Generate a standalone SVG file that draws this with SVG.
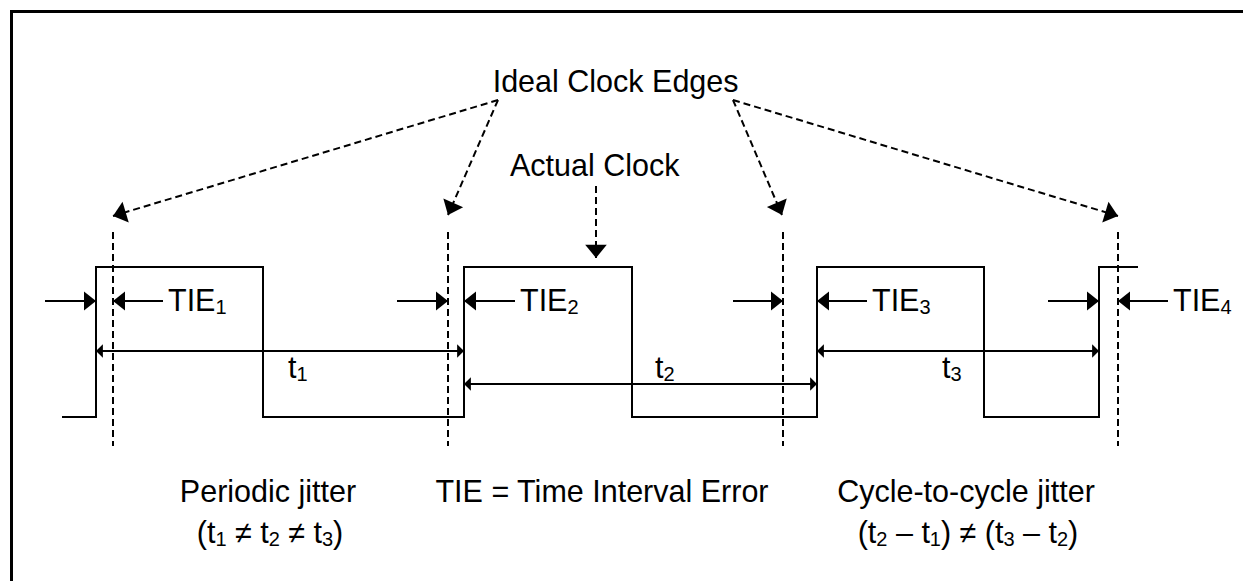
<svg xmlns="http://www.w3.org/2000/svg" width="1243" height="581" viewBox="0 0 1243 581">
  <style>
    text { font-family: "Liberation Sans", Arial, sans-serif; font-size: 30.5px; fill: #000; }
    .sub { font-size: 20px; }
    .wave { fill: none; stroke: #000; stroke-width: 2; }
    .dash { fill: none; stroke: #000; stroke-width: 2; stroke-dasharray: 7 4; }
    .solid { fill: none; stroke: #000; stroke-width: 2; }
  </style>
  <defs>
    <marker id="bigHead" markerUnits="userSpaceOnUse" markerWidth="24" markerHeight="24" viewBox="-12 -10 14 20" refX="0" refY="0" orient="auto">
      <path d="M0,0 L-11,-9 L-11,9 Z" fill="#000"/>
    </marker>
    <marker id="tieHead" markerUnits="userSpaceOnUse" markerWidth="24" markerHeight="24" viewBox="-12 -10 14 20" refX="0" refY="0" orient="auto">
      <path d="M0,0 L-10,-8 L-10,8 Z" fill="#000"/>
    </marker>
    <marker id="tHeadEnd" markerUnits="userSpaceOnUse" markerWidth="16" markerHeight="16" viewBox="-8 -7 10 14" refX="0" refY="0" orient="auto">
      <path d="M0,0 L-6,-6 L-6,6 Z" fill="#000"/>
    </marker>
    <marker id="tHeadStart" markerUnits="userSpaceOnUse" markerWidth="16" markerHeight="16" viewBox="-8 -7 10 14" refX="0" refY="0" orient="auto-start-reverse">
      <path d="M0,0 L-6,-6 L-6,6 Z" fill="#000"/>
    </marker>
  </defs>

  <rect id="frame" x="11.5" y="11.5" width="1300" height="700" fill="none" stroke="#000" stroke-width="3"/>

  <g id="actual-clock-waveform">
    <path class="wave" d="M62,417 H96 V267 H263 V417 H464 V267 H632 V417 H817 V267 H984 V417 H1099 V267 H1138"/>
  </g>

  <g id="ideal-edges">
    <line class="dash" x1="113" y1="232" x2="113" y2="446"/>
    <line class="dash" x1="448" y1="232" x2="448" y2="446"/>
    <line class="dash" x1="783" y1="232" x2="783" y2="446"/>
    <line class="dash" x1="1118" y1="232" x2="1118" y2="446"/>
  </g>

  <g id="label-ideal">
    <text x="492.7" y="92">Ideal Clock Edges</text>
  </g>
  <g id="label-actual">
    <text x="510" y="176">Actual Clock</text>
  </g>

  <g id="connectors">
    <line class="dash" x1="498" y1="100" x2="113" y2="216" marker-end="url(#bigHead)"/>
    <line class="dash" x1="498" y1="100" x2="448" y2="215" marker-end="url(#bigHead)"/>
    <line class="dash" x1="733" y1="100" x2="782" y2="215" marker-end="url(#bigHead)"/>
    <line class="dash" x1="733" y1="100" x2="1118" y2="216" marker-end="url(#bigHead)"/>
    <line class="dash" x1="596" y1="186" x2="596" y2="258" marker-end="url(#bigHead)"/>

    <line class="solid" x1="45" y1="301" x2="96" y2="301" marker-end="url(#tieHead)"/>
    <line class="solid" x1="163" y1="301" x2="113" y2="301" marker-end="url(#tieHead)"/>
    <line class="solid" x1="397" y1="301" x2="448" y2="301" marker-end="url(#tieHead)"/>
    <line class="solid" x1="515" y1="301" x2="464" y2="301" marker-end="url(#tieHead)"/>
    <line class="solid" x1="733" y1="301" x2="783" y2="301" marker-end="url(#tieHead)"/>
    <line class="solid" x1="867" y1="301" x2="817" y2="301" marker-end="url(#tieHead)"/>
    <line class="solid" x1="1048" y1="301" x2="1099" y2="301" marker-end="url(#tieHead)"/>
    <line class="solid" x1="1168" y1="301" x2="1118" y2="301" marker-end="url(#tieHead)"/>

    <line class="solid" x1="96" y1="351" x2="464" y2="351" marker-start="url(#tHeadStart)" marker-end="url(#tHeadEnd)"/>
    <line class="solid" x1="464" y1="384" x2="817" y2="384" marker-start="url(#tHeadStart)" marker-end="url(#tHeadEnd)"/>
    <line class="solid" x1="817" y1="351" x2="1099" y2="351" marker-start="url(#tHeadStart)" marker-end="url(#tHeadEnd)"/>
  </g>

  <g id="tie-labels">
    <text x="168" y="311">TIE<tspan class="sub" dy="3">1</tspan></text>
    <text x="520" y="311">TIE<tspan class="sub" dy="3">2</tspan></text>
    <text x="872" y="311">TIE<tspan class="sub" dy="3">3</tspan></text>
    <text x="1173" y="311">TIE<tspan class="sub" dy="3">4</tspan></text>
  </g>

  <g id="period-labels">
    <text x="288" y="378">t<tspan class="sub" dy="3">1</tspan></text>
    <text x="655" y="378">t<tspan class="sub" dy="3">2</tspan></text>
    <text x="942" y="378">t<tspan class="sub" dy="3">3</tspan></text>
  </g>

  <g id="note-periodic">
    <text x="268" y="502" text-anchor="middle">Periodic jitter</text>
    <text x="270" y="543" text-anchor="middle">(t<tspan class="sub" dy="3">1</tspan><tspan dy="-3"> ≠ t</tspan><tspan class="sub" dy="3">2</tspan><tspan dy="-3"> ≠ t</tspan><tspan class="sub" dy="3">3</tspan><tspan dy="-3">)</tspan></text>
  </g>
  <g id="note-tie">
    <text x="602" y="502" text-anchor="middle">TIE = Time Interval Error</text>
  </g>
  <g id="note-c2c">
    <text x="966" y="502" text-anchor="middle">Cycle-to-cycle jitter</text>
    <text x="968" y="543" text-anchor="middle">(t<tspan class="sub" dy="3">2</tspan><tspan dy="-3"> – t</tspan><tspan class="sub" dy="3">1</tspan><tspan dy="-3">) ≠ (t</tspan><tspan class="sub" dy="3">3</tspan><tspan dy="-3"> – t</tspan><tspan class="sub" dy="3">2</tspan><tspan dy="-3">)</tspan></text>
  </g>
</svg>
